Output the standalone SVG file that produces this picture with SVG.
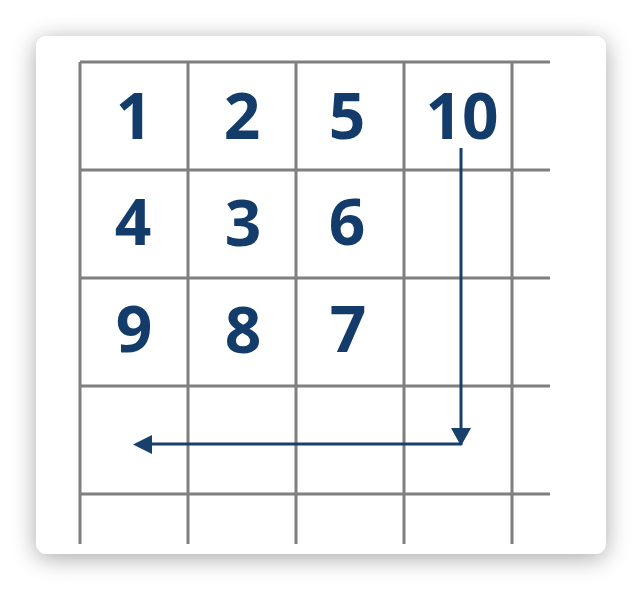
<svg xmlns="http://www.w3.org/2000/svg" width="642" height="590" viewBox="0 0 642 590">
<defs>
<filter id="sh" x="-20%" y="-20%" width="140%" height="140%">
<feGaussianBlur in="SourceAlpha" stdDeviation="12"/>
<feOffset dx="0" dy="4" result="b"/>
<feComponentTransfer><feFuncA type="linear" slope="0.35"/></feComponentTransfer>
<feMerge><feMergeNode/><feMergeNode in="SourceGraphic"/></feMerge>
</filter>
<marker id="ah" viewBox="0 0 10 10" refX="10" refY="5" markerWidth="7" markerHeight="7" markerUnits="userSpaceOnUse" orient="auto">
<path d="M0,0 L10,5 L0,10 z" fill="#17406d"/>
</marker>
<style>
.g{stroke:#7f7f7f;stroke-width:3;fill:none}
.n{font-family:"Open Sans","DejaVu Sans",sans-serif;font-weight:bold;font-size:64px;fill:#133c6b;text-anchor:middle}
.c{stroke:#17406d;stroke-width:3;fill:none}
</style>
</defs>
<rect width="642" height="590" fill="#ffffff"/>
<rect x="36" y="36" width="570" height="518" rx="11" fill="#ffffff" filter="url(#sh)"/>
<g id="grid">
<path class="g" d="M80,62V544M188,62V544M296,62V544M404,62V544M512,62V544M80,62H550M80,170H550M80,278H550M80,386H550M80,494H550"/>
</g>
<g id="n1"><text class="n" x="134" y="139">1</text></g>
<g id="n2"><text class="n" x="242" y="139">2</text></g>
<g id="n5"><text class="n" x="347" y="139">5</text></g>
<g id="n10"><text class="n" x="462" y="139">10</text></g>
<g id="n4"><text class="n" x="133" y="245">4</text></g>
<g id="n3"><text class="n" x="243" y="246">3</text></g>
<g id="n6"><text class="n" x="347" y="245">6</text></g>
<g id="n9"><text class="n" x="134" y="352">9</text></g>
<g id="n8"><text class="n" x="243" y="353">8</text></g>
<g id="n7"><text class="n" x="348" y="352">7</text></g>
<g id="connectors">
<path d="M461,148V445" class="c"/>
<path d="M451,428L471,428L461,446z" fill="#17406d"/>
<path d="M461,444H150" class="c"/>
<path d="M152,435L152,454L133,444.5z" fill="#17406d"/>
</g>
</svg>
